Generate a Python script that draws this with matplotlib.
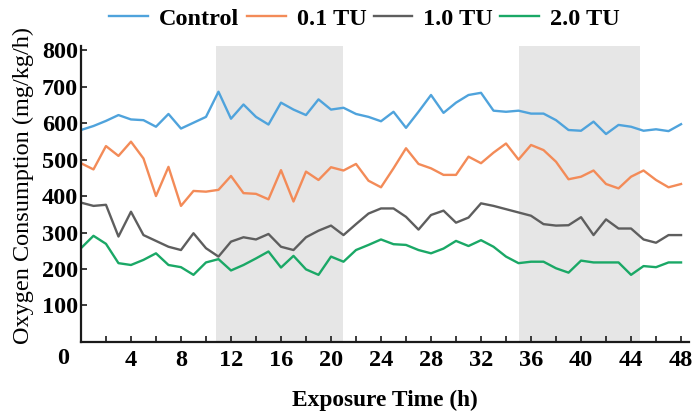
import matplotlib
matplotlib.use("Agg")
import matplotlib.pyplot as plt
from matplotlib.ticker import MultipleLocator

# hourly oxygen consumption, 0-48 h
hours = list(range(49))
control = [581, 592, 606, 622, 610, 608, 590, 625, 585, 601, 617, 686, 612, 651, 617, 596,
           656, 637, 622, 665, 637, 642, 625, 617, 605, 631, 587, 631, 677, 628, 656, 677,
           683, 634, 631, 634, 626, 626, 608, 581, 579, 604, 570, 595, 590, 579, 583, 578, 597]
tu01 = [490, 473, 537, 510, 549, 503, 400, 480, 373, 414, 412, 417, 455, 408, 406, 391,
        471, 385, 467, 444, 479, 470, 488, 442, 424, 476, 531, 488, 476, 458, 458, 508,
        490, 519, 544, 500, 540, 526, 494, 446, 453, 470, 433, 421, 453, 470, 444, 424, 433]
tu10 = [382, 373, 376, 289, 357, 293, 277, 261, 252, 298, 257, 234, 275, 287, 281, 296,
        261, 252, 287, 305, 319, 293, 323, 352, 366, 366, 343, 308, 348, 360, 327, 341,
        380, 373, 364, 355, 346, 323, 319, 320, 342, 293, 336, 311, 311, 281, 272, 293, 293]
tu20 = [257, 291, 269, 216, 211, 225, 243, 211, 205, 184, 218, 227, 196, 211, 229, 248,
        204, 236, 199, 184, 234, 220, 252, 266, 281, 268, 266, 252, 243, 256, 277, 263,
        279, 261, 234, 216, 220, 220, 202, 190, 223, 218, 218, 218, 184, 208, 205, 218, 218]

labels = ["Control", "0.1 TU", "1.0 TU", "2.0 TU"]
colors = ["#4fa3dc", "#f38b58", "#5e5e5e", "#1aa866"]
dark_periods = [(10.8, 21.0), (35.0, 44.7)]

plt.rcParams["font.family"] = ["Liberation Serif", "DejaVu Serif"]

fig = plt.figure(figsize=(6.92, 4.15), dpi=100)
ax = fig.add_axes([0.117, 0.176, 0.878, 0.712])

for start, end in dark_periods:
    ax.axvspan(start, end, color="#e6e6e6", lw=0, zorder=0)

for series, label, color in zip([control, tu01, tu10, tu20], labels, colors):
    ax.plot(hours, series, color=color, lw=1.7, label=label, zorder=2)

ax.set_xlim(0, 48.6)
ax.set_ylim(0, 810)
ax.xaxis.set_major_locator(MultipleLocator(4))
ax.xaxis.set_minor_locator(MultipleLocator(2))
ax.yaxis.set_major_locator(MultipleLocator(100))

for side in ["top", "right"]:
    ax.spines[side].set_visible(False)
for side in ["left", "bottom"]:
    ax.spines[side].set_linewidth(1.6)
    ax.spines[side].set_color("#1a1a1a")

ax.tick_params(which="both", direction="in", width=1.2, color="#1a1a1a", length=4)
ax.tick_params(axis="x", pad=6)
ax.tick_params(axis="y", pad=2)

ax.set_xticks(range(4, 49, 4))
ax.set_yticks(range(100, 801, 100))
for t in ax.get_xticklabels() + ax.get_yticklabels():
    t.set_fontsize(17.5)
    t.set_fontweight("bold")

# shared origin label
ax.text(-0.02, -0.055, "0", transform=ax.transAxes, ha="right", va="center",
        fontsize=17.5, fontweight="bold")

ax.set_xlabel("Exposure Time (h)", fontsize=16.8, fontweight="bold", labelpad=13)
ax.set_ylabel("Oxygen Consumption (mg/kg/h)", fontsize=17.5, labelpad=1)
ax.yaxis.set_label_coords(-0.078, 0.53)

fig.legend(loc="center", bbox_to_anchor=(0.527, 0.955), ncol=4, frameon=False,
           handlelength=1.6, columnspacing=0.3, handletextpad=0.45,
           prop={"weight": "bold", "size": 17.5})

fig.savefig("out.png", dpi=100)
